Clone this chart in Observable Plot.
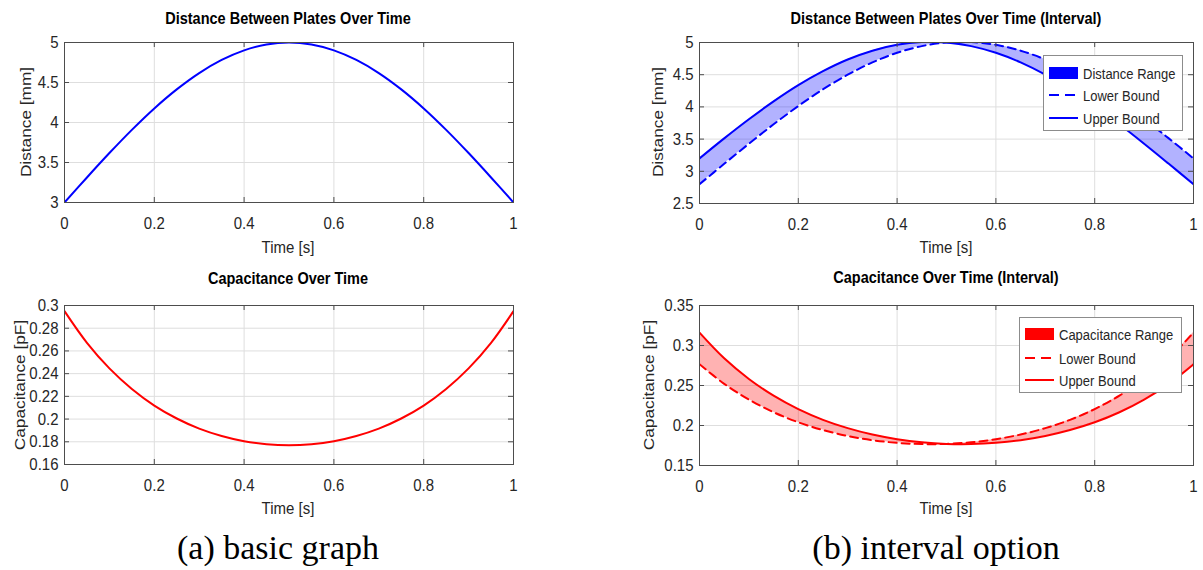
<!DOCTYPE html>
<html>
<head>
<meta charset="utf-8">
<script src="https://cdn.jsdelivr.net/npm/d3@7"></script>
<script src="https://cdn.jsdelivr.net/npm/@observablehq/plot@0.6"></script>
<style>
  body { margin: 0; background: #fff; }
  #root { position: relative; width: 1203px; height: 570px; overflow: hidden; background: #fff;
          font-family: "Liberation Sans", Arial, sans-serif; }
  .panel { position: absolute; }
  .title { position: absolute; font-weight: bold; font-size: 14.5px; color: #000; white-space: nowrap;
           transform: translate(-50%, -50%) scale(1, 1.15); }
  .xlab, .ylab { position: absolute; font-size: 15px; color: #262626; white-space: nowrap; }
  .xlab { transform: translate(-50%, -50%) scale(1, 1.15); }
  .ylab { transform: translate(-50%, -50%) rotate(-90deg) scale(1.15, 1); }
  .caption { position: absolute; font-family: "Liberation Serif", "Times New Roman", serif; font-size: 34px;
             color: #000; white-space: nowrap; transform: translate(-50%, -50%); }
  .legend { position: absolute; background: #fff; border: 1px solid #8c8c8c; box-sizing: border-box; }
  .legend .row { position: absolute; left: 0; height: 20px; display: flex; align-items: center; }
  .legend .row svg { margin-left: 5px; }
  .legend .row span { margin-left: 5px; font-size: 13px; color: #262626; white-space: nowrap;
                      display: inline-block; transform: scale(1, 1.12); }
</style>
</head>
<body>
<div id="root"></div>
<script>
// ---------- data ----------
const time = [0, 0.05, 0.1, 0.15, 0.2, 0.25, 0.3, 0.35, 0.4, 0.45, 0.5,
              0.55, 0.6, 0.65, 0.7, 0.75, 0.8, 0.85, 0.9, 0.95, 1];
const distance = [3.000, 3.313, 3.618, 3.908, 4.176, 4.414, 4.618, 4.782, 4.902, 4.975, 5.000,
                  4.975, 4.902, 4.782, 4.618, 4.414, 4.176, 3.908, 3.618, 3.313, 3.000];
const capacitance = [0.2950, 0.2671, 0.2446, 0.2265, 0.2119, 0.2005, 0.1916, 0.1851, 0.1805, 0.1779, 0.1770,
                     0.1779, 0.1805, 0.1851, 0.1916, 0.2005, 0.2119, 0.2265, 0.2446, 0.2671, 0.2950];
const distUpper = [3.200, 3.511, 3.808, 4.086, 4.338, 4.555, 4.736, 4.873, 4.964, 5.006, 5.000,
                   4.944, 4.840, 4.691, 4.500, 4.273, 4.014, 3.730, 3.428, 3.116, 2.800];
const distLower = [2.800, 3.116, 3.428, 3.730, 4.014, 4.273, 4.500, 4.691, 4.840, 4.944, 5.000,
                   5.006, 4.964, 4.873, 4.736, 4.555, 4.338, 4.086, 3.808, 3.511, 3.200];
const capUpper = [0.3161, 0.2840, 0.2582, 0.2373, 0.2205, 0.2071, 0.1967, 0.1887, 0.1829, 0.1790, 0.1770,
                  0.1768, 0.1783, 0.1816, 0.1869, 0.1943, 0.2040, 0.2166, 0.2324, 0.2521, 0.2766];
const capLower = [0.2766, 0.2521, 0.2324, 0.2166, 0.2040, 0.1943, 0.1869, 0.1816, 0.1783, 0.1768, 0.1770,
                  0.1790, 0.1829, 0.1887, 0.1967, 0.2071, 0.2205, 0.2373, 0.2582, 0.2840, 0.3161];

const xTicks = [0, 0.2, 0.4, 0.6, 0.8, 1];
const distTicks = [3, 3.5, 4, 4.5, 5];
const capTicks = [0.16, 0.18, 0.2, 0.22, 0.24, 0.26, 0.28, 0.3];
const distIntTicks = [2.5, 3, 3.5, 4, 4.5, 5];
const capIntTicks = [0.15, 0.2, 0.25, 0.3, 0.35];

const titles = ["Distance Between Plates Over Time", "Distance Between Plates Over Time (Interval)",
                "Capacitance Over Time", "Capacitance Over Time (Interval)"];
const xLabel = "Time [s]";
const yLabels = ["Distance [mm]", "Distance [mm]", "Capacitance [pF]", "Capacitance [pF]"];
const captions = ["(a) basic graph", "(b) interval option"];
const legendDist = ["Distance Range", "Lower Bound", "Upper Bound"];
const legendCap = ["Capacitance Range", "Lower Bound", "Upper Bound"];

const BLUE = "#0000ff", RED = "#ff0000";
const rows = time.map((t, i) => ({
  t, d: distance[i], c: capacitance[i],
  du: distUpper[i], dl: distLower[i], cu: capUpper[i], cl: capLower[i]
}));

const root = document.getElementById("root");
const fmt = d => String(+d.toFixed(4));

function panel({left, top, width, height, mt, mb, ml, mr, yDomain, yTicks, marks}) {
  const ph = height - mt - mb, pw = width - ml - mr;
  const tickStroke = "#4d4d4d";
  const svg = Plot.plot({
    width, height, marginLeft: ml, marginRight: mr, marginTop: mt, marginBottom: mb,
    style: {fontFamily: "'Liberation Sans', Arial, sans-serif", fontSize: "15px", color: "#262626",
            background: "transparent", overflow: "visible"},
    x: {domain: [0, 1]},
    y: {domain: yDomain},
    marks: [
      Plot.gridX(xTicks, {stroke: "#dedede", strokeOpacity: 1}),
      Plot.gridY(yTicks, {stroke: "#dedede", strokeOpacity: 1}),
      ...marks,
      Plot.ruleX(xTicks, {x: d => d, insetTop: ph - 5, stroke: tickStroke}),
      Plot.ruleX(xTicks, {x: d => d, insetBottom: ph - 5, stroke: tickStroke}),
      Plot.ruleY(yTicks, {y: d => d, insetRight: pw - 5, stroke: tickStroke}),
      Plot.ruleY(yTicks, {y: d => d, insetLeft: pw - 5, stroke: tickStroke}),
      Plot.frame({stroke: "#4d4d4d", strokeWidth: 1}),
      Plot.axisX(xTicks, {anchor: "bottom", tickSize: 0, tickPadding: 14, tickFormat: fmt, label: null}),
      Plot.axisY(yTicks, {anchor: "left", tickSize: 0, tickPadding: 6, tickFormat: fmt, label: null})
    ]
  });
  // slight vertical stretch of tick labels, as in the reference rendering
  svg.querySelectorAll('g[aria-label$="tick label"] text').forEach(t => {
    const tr = t.getAttribute("transform");
    if (tr) t.setAttribute("transform", tr + " scale(1,1.15)");
  });
  svg.classList.add("panel");
  svg.style.left = left + "px";
  svg.style.top = top + "px";
  root.appendChild(svg);
}

const lineOpts = (y, color, dashed) => ({x: "t", y, stroke: color, strokeWidth: 2, curve: "catmull-rom",
  strokeDasharray: dashed ? "8,5" : null, clip: true});

// (a) top: distance
panel({left: 0, top: 0, width: 600, height: 270, mt: 42, mb: 68, ml: 64, mr: 87,
  yDomain: [3, 5], yTicks: distTicks,
  marks: [Plot.line(rows, lineOpts("d", BLUE, false))]});
// (b) top: distance interval
panel({left: 600, top: 0, width: 603, height: 270, mt: 42, mb: 67, ml: 99, mr: 10,
  yDomain: [2.5, 5], yTicks: distIntTicks,
  marks: [
    Plot.areaY(rows, {x: "t", y1: "dl", y2: "du", fill: BLUE, fillOpacity: 0.3, curve: "catmull-rom", clip: true}),
    Plot.line(rows, lineOpts("dl", BLUE, true)),
    Plot.line(rows, lineOpts("du", BLUE, false))
  ]});
// (a) bottom: capacitance
panel({left: 0, top: 260, width: 600, height: 260, mt: 45, mb: 56, ml: 64, mr: 87,
  yDomain: [0.16, 0.3], yTicks: capTicks,
  marks: [Plot.line(rows, lineOpts("c", RED, false))]});
// (b) bottom: capacitance interval
panel({left: 600, top: 260, width: 603, height: 260, mt: 45, mb: 55, ml: 99, mr: 10,
  yDomain: [0.15, 0.35], yTicks: capIntTicks,
  marks: [
    Plot.areaY(rows, {x: "t", y1: "cl", y2: "cu", fill: RED, fillOpacity: 0.3, curve: "catmull-rom", clip: true}),
    Plot.line(rows, lineOpts("cl", RED, true)),
    Plot.line(rows, lineOpts("cu", RED, false))
  ]});

function addText(cls, text, x, y) {
  const el = document.createElement("div");
  el.className = cls;
  el.textContent = text;
  el.style.left = x + "px";
  el.style.top = y + "px";
  root.appendChild(el);
}
addText("title", titles[0], 288, 18);
addText("title", titles[1], 946, 18);
addText("title", titles[2], 288, 278);
addText("title", titles[3], 946, 277);
addText("xlab", xLabel, 288, 247);
addText("xlab", xLabel, 946, 247);
addText("xlab", xLabel, 288, 508);
addText("xlab", xLabel, 946, 508);
addText("ylab", yLabels[0], 25, 122);
addText("ylab", yLabels[1], 657, 122);
addText("ylab", yLabels[2], 19, 385);
addText("ylab", yLabels[3], 648, 385);
addText("caption", captions[0], 278, 548);
addText("caption", captions[1], 936, 548);

function legend(x, y, w, h, labels, color, rowYs) {
  const box = document.createElement("div");
  box.className = "legend";
  Object.assign(box.style, {left: x + "px", top: y + "px", width: w + "px", height: h + "px"});
  const swatches = [
    `<rect x="0" y="4" width="29" height="12" fill="${color}"/>`,
    `<line x1="0" x2="29" y1="10" y2="10" stroke="${color}" stroke-width="2" stroke-dasharray="10,6"/>`,
    `<line x1="0" x2="29" y1="10" y2="10" stroke="${color}" stroke-width="2"/>`
  ];
  labels.forEach((lab, i) => {
    const r = document.createElement("div");
    r.className = "row";
    r.style.top = (rowYs[i] - 10) + "px";
    r.innerHTML = `<svg width="29" height="20">${swatches[i]}</svg><span></span>`;
    r.querySelector("span").textContent = lab;
    box.appendChild(r);
  });
  root.appendChild(box);
}
legend(1043, 55, 140, 76, legendDist, BLUE, [17, 39, 62]);
legend(1019, 317, 163, 76, legendCap, RED, [16, 40, 62]);
</script>
</body>
</html>
